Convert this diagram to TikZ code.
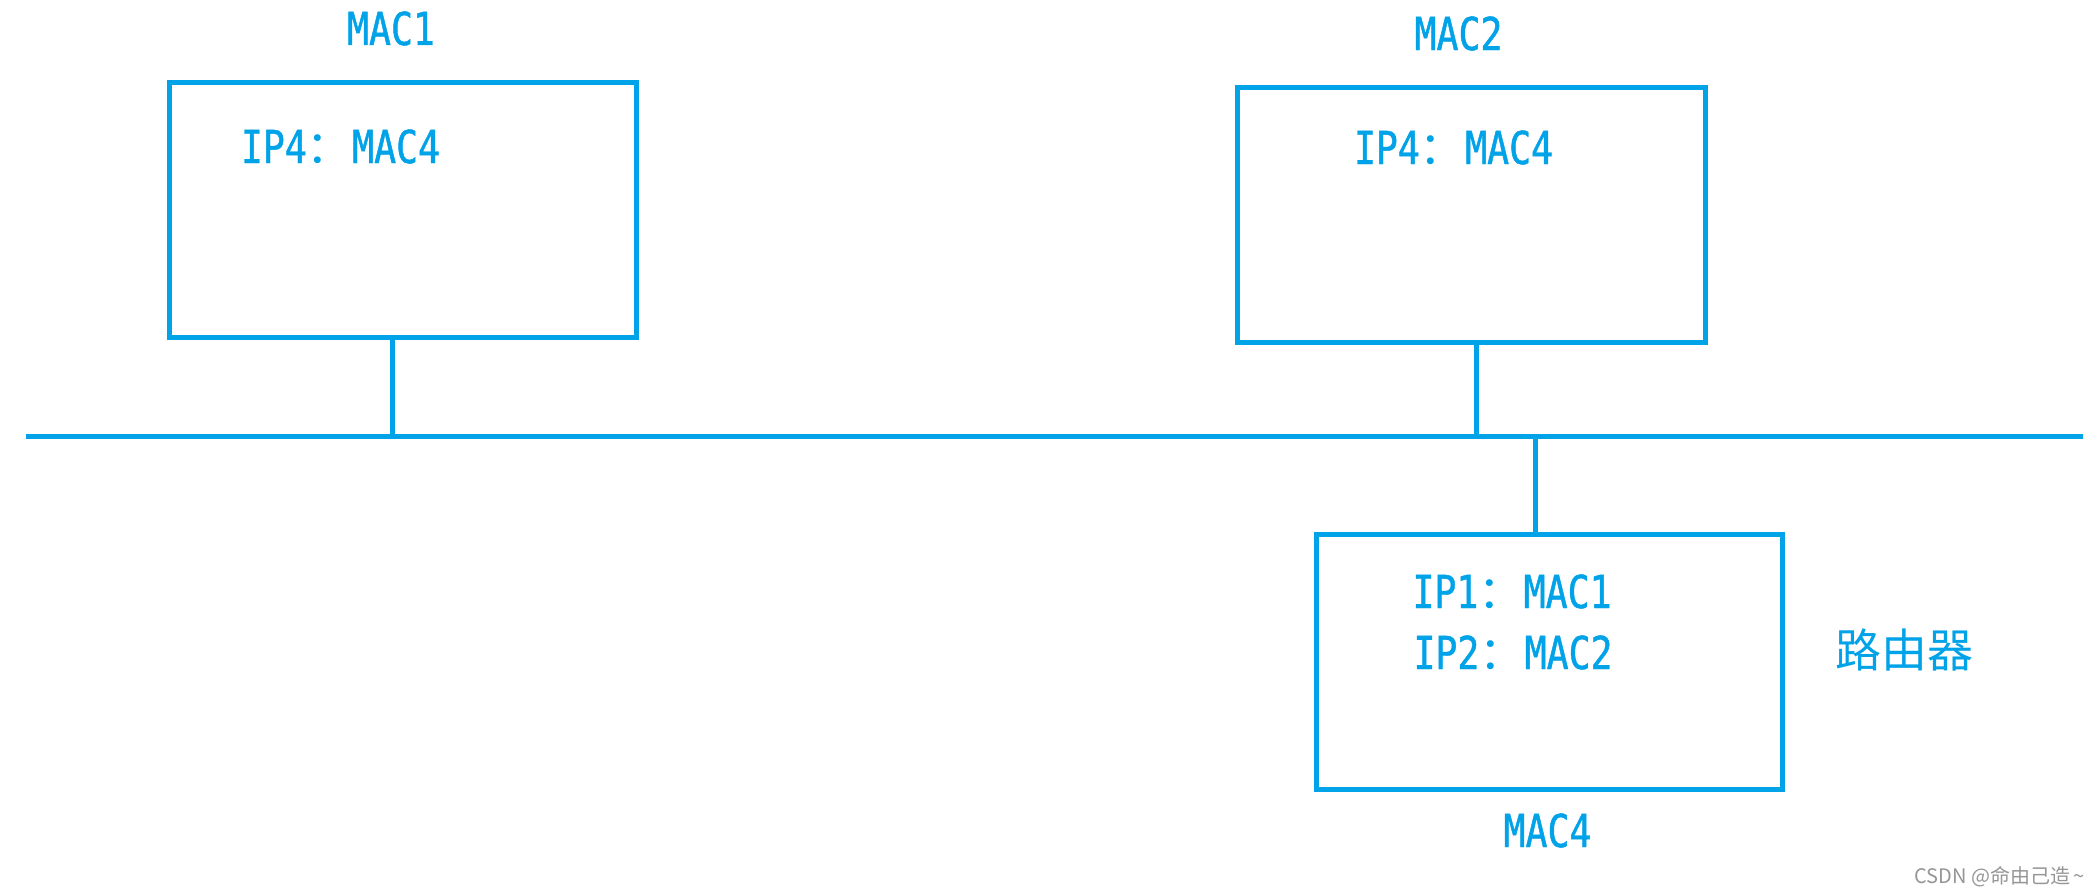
\documentclass[tikz,border=0pt]{standalone}
\usepackage{fontspec}
\usetikzlibrary{calc}
\newfontfamily\latf[FakeStretch=0.806,FakeBold=1]{DejaVu Sans Mono}
\newfontfamily\cjkf{Noto Sans CJK SC}
\definecolor{netblue}{RGB}{0,162,232}
\definecolor{wmgray}{RGB}{150,150,150}
\newcommand\ipmac[2]{{\latf #1}{\cjkf ：}{\latf #2}}
\tikzset{
  hostbox/.style={draw=netblue, line width=2.5pt, rectangle, inner sep=0pt},
  wire/.style={draw=netblue, line width=2.5pt},
  lbl/.style={text=netblue, inner sep=0pt, font=\fontsize{22.65}{27}\selectfont\latf},
  cjklbl/.style={text=netblue, inner sep=0pt, font=\fontsize{23}{27}\selectfont\cjkf},
  wm/.style={text=wmgray, inner sep=0pt, font=\fontsize{10}{12}\selectfont\cjkf}
}
\begin{document}
\begin{tikzpicture}[x=0.5pt,y=-0.5pt]
\useasboundingbox[fill=white] (0,0) rectangle (2095,894);
% boxes
\node[hostbox, minimum width=233.5pt, minimum height=127.5pt] (b1) at (403,210) {};
\node[hostbox, minimum width=233.75pt, minimum height=127.5pt] (b2) at (1471.25,215) {};
\node[hostbox, minimum width=233pt, minimum height=127.5pt] (b3) at (1549,661.5) {};
% bus
\coordinate (busL) at (26,436.5);
\coordinate (busR) at (2083,436.5);
\draw[wire] (busL) -- (busR);
% drops
\coordinate (d1) at ($(b1.south)+(-11,0)$);
\coordinate (d2) at ($(b2.south)+(4.75,0)$);
\coordinate (d3) at ($(b3.north)+(-13.3,0)$);
\draw[wire] (d1) -- (d1 |- busL);
\draw[wire] (d2) -- (d2 |- busL);
\draw[wire] (d3 |- busL) -- (d3);
% labels
\node[lbl, anchor=base] (m1) at (391,45) {MAC1};
\node[lbl, anchor=base] (m2) at (1458.5,50) {MAC2};
\node[lbl, anchor=base] (m4) at (1547.5,847) {MAC4};
\node[lbl, anchor=base] (t1) at (340.5,163) {\ipmac{IP4}{MAC4}};
\node[lbl, anchor=base] (t2) at (1453.5,164) {\ipmac{IP4}{MAC4}};
\node[lbl, anchor=base] (t3) at (1512,608) {\ipmac{IP1}{MAC1}};
\node[lbl, anchor=base] (t4) at (1513,669) {\ipmac{IP2}{MAC2}};
\node[cjklbl, anchor=center] (rt) at (1904.5,650) {路由器};
\node[wm, anchor=base east] (wmk) at (2085,883) {CSDN @命由己造\,\char"007E};
\end{tikzpicture}
\end{document}
